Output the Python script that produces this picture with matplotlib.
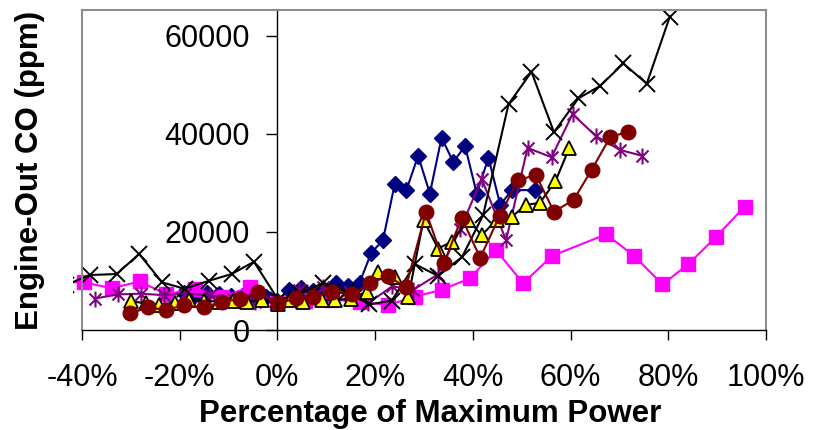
import matplotlib
matplotlib.use('Agg')
import matplotlib.pyplot as plt
from matplotlib.patches import Rectangle
from matplotlib.path import Path

plt.rcParams['font.family'] = ['Liberation Sans', 'DejaVu Sans']

# ---- data (percent of max power, engine-out CO in ppm) ----
navy_x = [-19.2, -16.8, -14.4, -12.0, -9.6, -7.2, -4.8, -2.4, 0.0, 2.4, 4.8, 7.2, 9.6,
          12.0, 14.4, 16.8, 19.2, 21.6, 24.0, 26.4, 28.8, 31.2, 33.6, 36.0, 38.4, 40.8,
          43.2, 45.6, 48.0, 52.8]
navy_y = [7500, 7200, 7600, 7300, 7000, 6900, 7000, 6800, 6000, 8100, 8500, 8000, 8200,
          9600, 8900, 9600, 15700, 18300, 29700, 28500, 35500, 27800, 39200, 34200, 37500,
          27800, 35100, 25500, 28500, 28500]

magenta_x = [-45.1, -39.5, -33.9, -28.2, -22.8, -16.9, -11.3, -5.7, 0.0, 5.6, 11.2, 17.0,
             22.7, 28.2, 33.6, 39.4, 44.7, 50.3, 56.2, 67.3, 73.0, 78.8, 84.1, 89.8, 95.6]
magenta_y = [9800, 9700, 8500, 9900, 7300, 8400, 6800, 8700, 5500, 6000, 6200, 5700,
             5100, 6800, 8200, 10500, 16300, 9500, 15100, 19500, 15100, 9300, 13400, 19000, 25100]

purple_x = [-37.4, -32.7, -28.0, -23.2, -18.9, -13.9, -9.1, -4.6, 0.0, 4.5, 9.4, 13.8,
            18.6, 23.5, 27.8, 32.8, 37.4, 41.8, 46.8, 51.2, 56.1, 60.4, 65.2, 70.1, 74.6]
purple_y = [6400, 7250, 7400, 7100, 7400, 7100, 6300, 5800, 5600, 8100, 8800, 7500,
            5500, 8900, 8200, 11300, 20500, 30800, 18300, 37100, 35200, 44000, 39500, 36700, 35500]

black_x = [-43.2, -38.4, -32.9, -28.3, -23.6, -19.0, -14.1, -9.4, -4.8, 0.2, 4.7, 9.4,
           14.1, 18.8, 23.4, 28.2, 32.9, 37.8, 42.1, 47.3, 52.0, 56.6, 61.6, 66.0, 70.8,
           75.6, 80.3]
black_y = [9200, 11200, 11400, 15500, 9700, 8400, 10000, 11400, 13900, 6100, 7500, 9600,
           7800, 5200, 6000, 13400, 11000, 14900, 23400, 46000, 52600, 40300, 47200, 49700,
           54300, 50200, 63800]

yellow_x = [-30.0, -27.0, -24.2, -21.0, -18.0, -15.0, -12.0, -9.0, -6.2, -3.2, 0.2, 2.6,
            5.3, 9.1, 11.8, 15.0, 18.3, 20.6, 24.1, 26.8, 29.9, 32.9, 35.7, 39.1, 41.8,
            44.9, 48.0, 50.9, 53.7, 56.9, 59.7]
yellow_y = [5900, 5400, 5100, 5600, 6100, 5900, 5800, 5900, 5700, 6200, 5300, 6100,
            5800, 6100, 6100, 6400, 7800, 11800, 10900, 6800, 22400, 16600, 18000, 22400,
            19300, 22500, 23100, 25500, 25900, 30300, 37000]

red_x = [-30.2, -26.4, -22.9, -19.1, -15.0, -11.3, -7.7, -3.9, 0.1, 3.8, 7.3, 11.1, 15.2,
         19.0, 22.6, 26.3, 30.4, 34.1, 37.7, 41.5, 45.5, 49.2, 52.9, 56.6, 60.6, 64.3,
         68.1, 71.8]
red_y = [3400, 4600, 4100, 5000, 4600, 5800, 6250, 7800, 5400, 6450, 6800, 7800, 7300,
         9500, 11000, 8700, 24100, 13600, 22900, 14700, 23300, 30500, 31600, 24100, 26500,
         32600, 39300, 40400]

xticks = [-40, -20, 0, 20, 40, 60, 80, 100]
yticks = [0, 20000, 40000, 60000]

# asterisk marker like the spreadsheet "star"
star = Path([(0, -1), (0, 1), (-0.75, -0.75), (0.75, 0.75), (-0.75, 0.75), (0.75, -0.75)],
            [Path.MOVETO, Path.LINETO, Path.MOVETO, Path.LINETO, Path.MOVETO, Path.LINETO])

fig = plt.figure(figsize=(8.16, 4.30), dpi=100)
ax = fig.add_axes([82/816, 1 - 330/430, 684/816, 320/430])
ax.set_xlim(-40, 100)
ax.set_ylim(0, 65200)

clip = Rectangle((-9/684, -0.05), 1 + 9/684, 1.05, transform=ax.transAxes)

lines = []
lines += ax.plot(navy_x, navy_y, color='#000080', lw=1.5, marker='D', ms=8.5,
                 mfc='#000080', mec='#000080')
lines += ax.plot(magenta_x, magenta_y, color='#FF00FF', lw=1.5, marker='s', ms=10,
                 mfc='#FF00FF', mec='#FF00FF')
lines += ax.plot(purple_x, purple_y, color='#800080', lw=1.5, marker=star, ms=11.5,
                 mew=1.5, mec='#800080')
lines += ax.plot(black_x, black_y, color='black', lw=1.5, marker='x', ms=12, mew=1.4)
lines += ax.plot(yellow_x, yellow_y, color='black', lw=1.5, marker='^', ms=10,
                 mfc='#FFFF00', mec='black', mew=1.3)
lines += ax.plot(red_x, red_y, color='#800000', lw=1.5, marker='o', ms=10.5,
                 mfc='#800000', mec='#800000')
for ln in lines:
    ln.set_clip_path(clip)

gray = '#8c8c8c'
ax.spines['left'].set_position(('data', 0))
ax.spines['left'].set_color('black')
ax.spines['left'].set_linewidth(1.0)
ax.spines['bottom'].set_color('black')
ax.spines['bottom'].set_linewidth(1.0)
for s in ['top', 'right']:
    ax.spines[s].set_color(gray)
    ax.spines[s].set_linewidth(1.5)
ax.plot([0, 0], [0, 1], transform=ax.transAxes, color=gray, lw=1.5, clip_on=False)

ax.set_xticks(xticks)
ax.set_xticklabels([f'{v}%' for v in xticks])
ax.set_yticks(yticks)
ax.set_yticklabels([str(v) for v in yticks])
ax.tick_params(axis='x', direction='out', length=7.5, width=1, pad=16, labelsize=22)
ax.tick_params(axis='y', direction='out', length=8, width=1, pad=12, labelsize=22)

fig.text(430/816, 1 - 414/430, 'Percentage of Maximum Power', ha='center', va='center',
         fontsize=22.5, fontweight='bold')
fig.text(30/816, 1 - 170/430, 'Engine-Out CO (ppm)', ha='center', va='center',
         rotation=90, fontsize=22.5, fontweight='bold')

fig.savefig('out.png', dpi=100)
